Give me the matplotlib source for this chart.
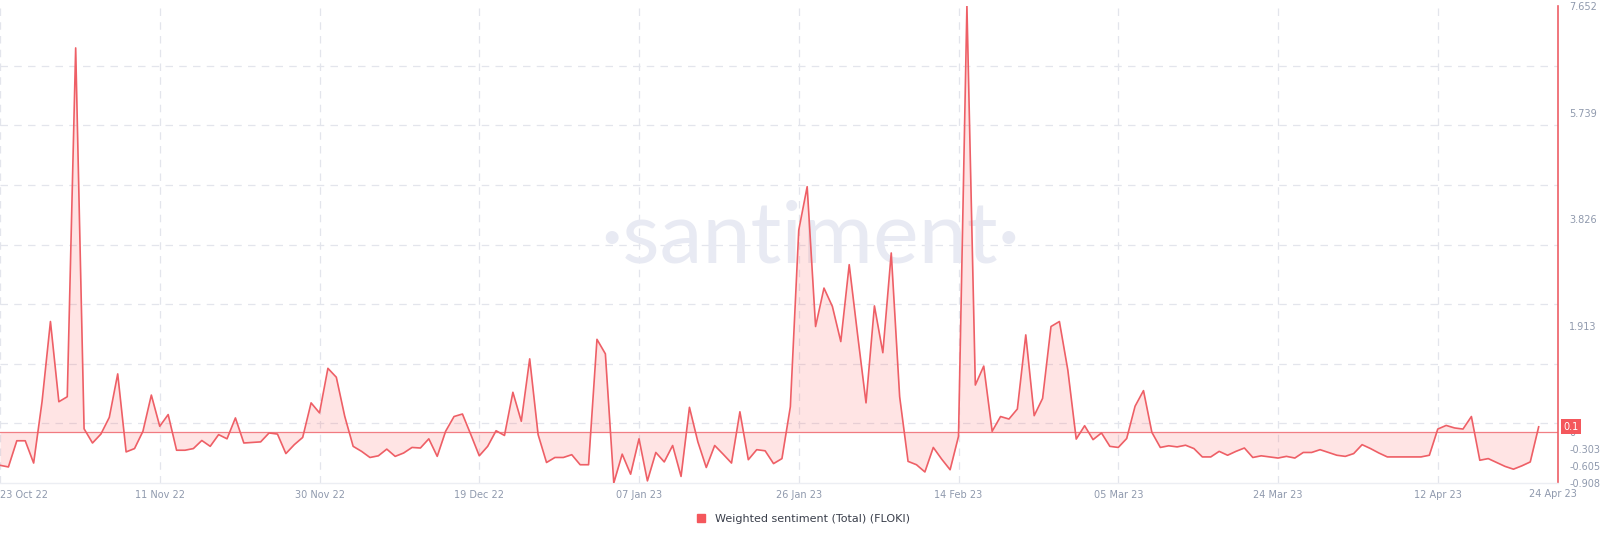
import numpy as np
import pandas as pd
import matplotlib as mpl
mpl.use('Agg')
import matplotlib.pyplot as plt
import matplotlib.dates as mdates
from matplotlib.lines import Line2D

start = '2022-10-23'
# daily weighted sentiment, 23 Oct 22 .. 24 Apr 23
sentiment = [
    -0.59, -0.62, -0.15, -0.15, -0.55, 0.55, 1.99, 0.55, 0.64, 6.90,
    0.065, -0.19, -0.03, 0.27, 1.05, -0.35, -0.29, 0.02, 0.67, 0.11,
    0.32, -0.32, -0.32, -0.29, -0.145, -0.25, -0.04, -0.115, 0.26, -0.19,
    -0.18, -0.17, -0.01, -0.03, -0.38, -0.22, -0.09, 0.53, 0.35, 1.15,
    0.99, 0.29, -0.25, -0.34, -0.45, -0.42, -0.30, -0.43,
    -0.37, -0.27, -0.28, -0.115, -0.43, 0.02, 0.285, 0.33, -0.04, -0.42,
    -0.25, 0.03, -0.055, 0.72, 0.20, 1.32, -0.04, -0.54, -0.45, -0.45,
    -0.40, -0.58, -0.58, 1.67, 1.41, -0.908, -0.39, -0.75, -0.115, -0.87,
    -0.36, -0.53, -0.235, -0.79, 0.45, -0.17, -0.63, -0.235, -0.39, -0.55,
    0.37, -0.49, -0.31, -0.33, -0.56, -0.47, 0.46,
    3.63, 4.41, 1.90, 2.59, 2.26, 1.63, 3.01, 1.75, 0.53, 2.27,
    1.43, 3.22, 0.64, -0.52, -0.58, -0.71, -0.27, -0.48, -0.67, -0.07,
    7.652, 0.85, 1.19, 0.02, 0.285, 0.24, 0.42, 1.75, 0.30, 0.61,
    1.90, 1.99, 1.12, -0.12, 0.12, -0.13, -0.01, -0.25, -0.27, -0.11,
    0.47, 0.75, 0.0, -0.27,
    -0.24, -0.26, -0.23, -0.29, -0.44, -0.44, -0.34, -0.41, -0.34, -0.28,
    -0.45, -0.42, -0.44, -0.46, -0.43, -0.46, -0.36, -0.36, -0.31, -0.36,
    -0.41, -0.43, -0.38, -0.22, -0.29, -0.37, -0.44, -0.44, -0.44, -0.44,
    -0.44, -0.41, 0.06, 0.125, 0.08, 0.06, 0.285, -0.50, -0.47, -0.54,
    -0.61, -0.66, -0.60, -0.53, 0.10,
]
dates = pd.date_range(start, periods=len(sentiment), freq='D')

tick_dates = ['2022-10-23', '2022-11-11', '2022-11-30', '2022-12-19', '2023-01-07',
              '2023-01-26', '2023-02-14', '2023-03-05', '2023-03-24', '2023-04-12']
end_label = '24 Apr 23'
y_labels = [7.652, 5.739, 3.826, 1.913, 0, -0.303, -0.605, -0.908]
ymin, ymax = -0.908, 7.652
last_value = '0.1'
series_name = 'Weighted sentiment (Total) (FLOKI)'

red = '#ee5f66'
grey = '#8f99ad'
grid = '#e3e5ec'

fig = plt.figure(figsize=(16, 5.41), dpi=100)
ax = fig.add_axes([0.0, 1 - 483 / 541, 1558 / 1600, 477 / 541])

# watermark, behind the series
ax.text(0.5063, 1 - 263 / 541, '\u00b7santiment\u00b7', transform=fig.transFigure,
        ha='center', va='baseline', fontsize=62, color='#e8eaf3', family='Lato', zorder=1)

ax.fill_between(dates, sentiment, 0, color='#ff5b5b', alpha=0.16, linewidth=0, zorder=2)
ax.plot(dates, sentiment, color=red, linewidth=1.2, zorder=3)
ax.axhline(0, color=red, linewidth=0.9, alpha=0.8, zorder=3)

t0 = pd.Timestamp(start)
ax.set_xlim(t0, t0 + pd.Timedelta(days=185.3))
ax.set_ylim(ymin, ymax)

ax.set_xticks(pd.to_datetime(tick_dates))
ax.xaxis.set_major_formatter(mdates.DateFormatter('%d %b %y'))
ax.set_yticks(y_labels)
ax.set_yticklabels([('%g' % v) if v != 0 else '0' for v in y_labels])
ax.set_yticks(np.linspace(ymin, ymax, 9)[1:], minor=True)

ax.yaxis.tick_right()
ax.tick_params(axis='y', which='both', length=0, pad=8, labelsize=7, labelcolor=grey)
ax.tick_params(axis='x', length=0, pad=5, labelsize=7, labelcolor=grey)
ax.xaxis.grid(True, color=grid, linestyle=(0, (6, 5)), linewidth=0.9)
ax.yaxis.grid(True, which='minor', color=grid, linestyle=(0, (6, 5)), linewidth=0.9)
ax.yaxis.grid(False, which='major')
ax.set_axisbelow(True)

for s in ['top', 'left']:
    ax.spines[s].set_visible(False)
ax.spines['right'].set_color(red)
ax.spines['right'].set_linewidth(1.2)
ax.spines['bottom'].set_color('#eceef3')
ax.spines['bottom'].set_linewidth(1.0)

labels = ax.get_xticklabels()
labels[0].set_ha('left')

ax.text(1553 / 1558, -0.012, end_label, transform=ax.transAxes, ha='center', va='top',
        fontsize=7, color=grey)

# last value badge
ax.text(1.0035, float(last_value), last_value, transform=ax.get_yaxis_transform(),
        ha='left', va='center', fontsize=7, color='white', zorder=5, clip_on=False,
        bbox=dict(boxstyle='square,pad=0.25', facecolor='#f4575c', edgecolor='none'))

handle = Line2D([], [], marker='s', color='#f4575c', linestyle='none', markersize=6)
fig.legend([handle], [series_name], loc='center', bbox_to_anchor=(0.5, 1 - 519 / 541),
           frameon=False, fontsize=8, handletextpad=0.2, labelcolor='#3a3f4b')

plt.savefig('out.png', dpi=100)
